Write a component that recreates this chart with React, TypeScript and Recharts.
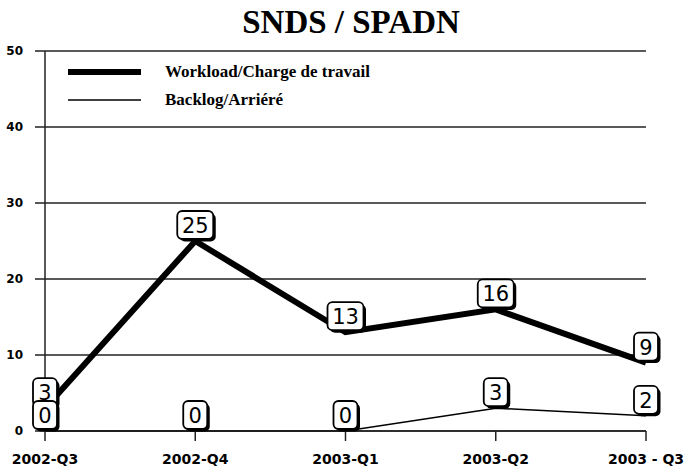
import { LineChart, Line, XAxis, YAxis, CartesianGrid, LabelList, Legend } from 'recharts';

const quarters = ['2002-Q3', '2002-Q4', '2003-Q1', '2003-Q2', '2003 - Q3'];
const workload = [3, 25, 13, 16, 9];
const backlog = [0, 0, 0, 3, 2];
const yTicks = [0, 10, 20, 30, 40, 50];
const seriesNames = ['Workload/Charge de travail', 'Backlog/Arriéré'];
const seriesWidths = [6, 1.5];

const data = quarters.map((q, i) => ({
  quarter: q,
  workload: workload[i],
  backlog: backlog[i],
}));

const AXIS = '#222';
const tickFont = { fontFamily: '"DejaVu Sans"', fontWeight: 'bold', fill: '#000' };

// boxed value label with a drop shadow, sitting just above the point
function BoxLabel(props: any) {
  const { x, y, value } = props;
  if (x == null || y == null) return null;
  const text = String(value);
  const w = text.length > 1 ? 36 : 24;
  const h = 28;
  const left = x - w / 2;
  const top = y - h - 2;
  return (
    <g>
      <rect x={left + 2.5} y={top + 2.5} width={w} height={h} rx={5} fill="#000" />
      <rect x={left} y={top} width={w} height={h} rx={5} fill="#fff" stroke="#000" strokeWidth={1.8} />
      <text
        x={x}
        y={top + h / 2 + 1}
        textAnchor="middle"
        dominantBaseline="central"
        fontFamily='"DejaVu Sans"'
        fontSize={21}
        fill="#000"
      >
        {text}
      </text>
    </g>
  );
}

function LegendBox() {
  return (
    <div style={{ fontFamily: '"Liberation Serif"', fontWeight: 'bold', fontSize: 17, color: '#000' }}>
      {seriesNames.map((n, i) => (
        <div key={n} style={{ display: 'flex', alignItems: 'center', height: 28 }}>
          <svg width={97} height={10} style={{ flex: 'none' }}>
            <line x1={0} x2={73} y1={5} y2={5} stroke="#000" strokeWidth={seriesWidths[i]} />
          </svg>
          <span>{n}</span>
        </div>
      ))}
    </div>
  );
}

export default function App() {
  return (
    <div style={{ position: 'absolute', left: 0, top: 0, width: 687, height: 470, background: '#fff' }}>
      <div
        style={{
          position: 'absolute',
          left: 0,
          top: 4,
          width: 702,
          textAlign: 'center',
          fontFamily: '"Liberation Serif"',
          fontWeight: 'bold',
          fontSize: 33,
          color: '#000',
        }}
      >
        SNDS / SPADN
      </div>
      <LineChart width={687} height={470} data={data} margin={{ top: 51, right: 41, left: 0, bottom: 0 }}>
        <CartesianGrid vertical={false} stroke={AXIS} strokeWidth={1.5} />
        <XAxis
          dataKey="quarter"
          height={39}
          tickSize={10}
          tickMargin={13}
          stroke={AXIS}
          strokeWidth={1.5}
          tick={{ ...tickFont, fontSize: 14 }}
          interval={0}
        />
        <YAxis
          width={45}
          domain={[0, 50]}
          ticks={yTicks}
          tickSize={10}
          tickMargin={12}
          stroke={AXIS}
          strokeWidth={1.5}
          tick={{ ...tickFont, fontSize: 12 }}
        />
        <Legend
          layout="vertical"
          align="center"
          verticalAlign="middle"
          wrapperStyle={{ left: 68, top: 58, width: 400 }}
          content={() => <LegendBox />}
        />
        <Line
          type="linear"
          dataKey="workload"
          name={seriesNames[0]}
          stroke="#000"
          strokeWidth={seriesWidths[0]}
          dot={false}
          isAnimationActive={false}
        >
          <LabelList dataKey="workload" content={BoxLabel} />
        </Line>
        <Line
          type="linear"
          dataKey="backlog"
          name={seriesNames[1]}
          stroke="#000"
          strokeWidth={seriesWidths[1]}
          dot={false}
          isAnimationActive={false}
        >
          <LabelList dataKey="backlog" content={BoxLabel} />
        </Line>
      </LineChart>
    </div>
  );
}
